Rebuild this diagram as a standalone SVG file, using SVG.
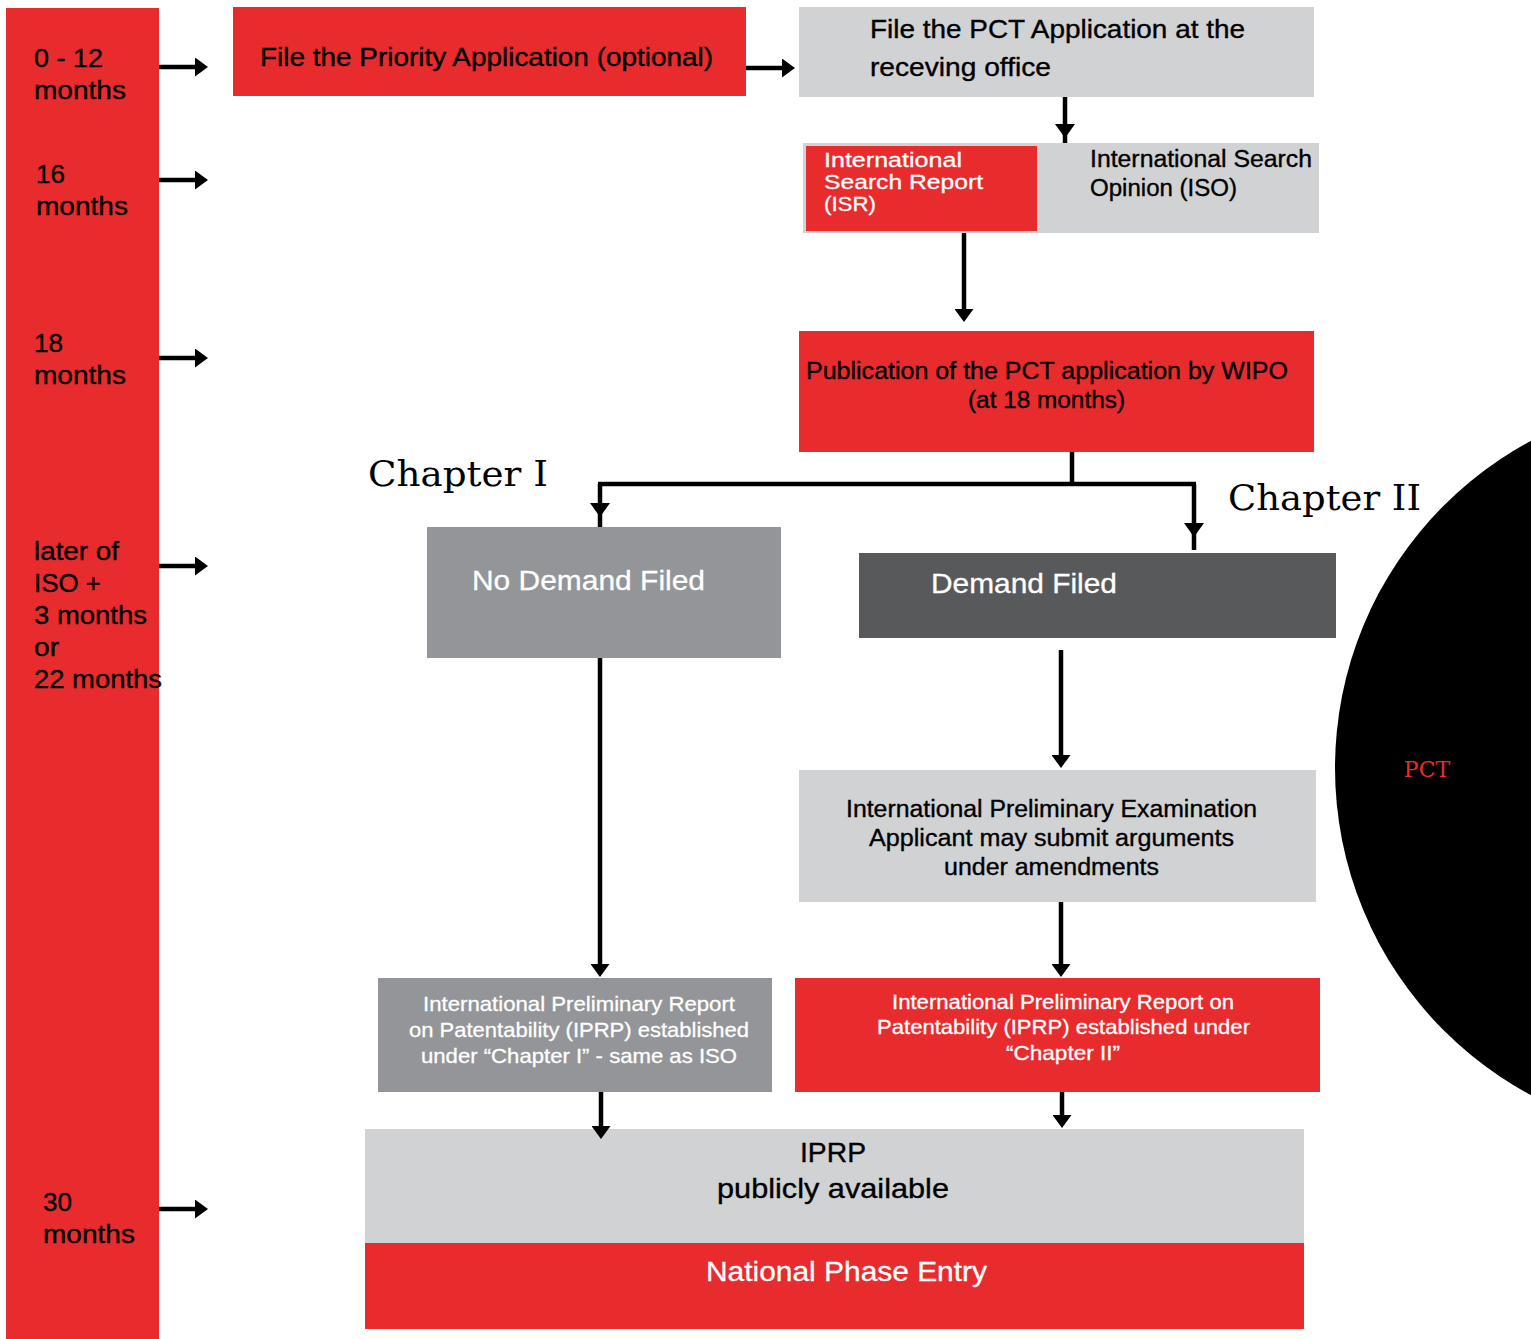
<svg xmlns="http://www.w3.org/2000/svg" width="1531" height="1339" viewBox="0 0 1531 1339">
<style>
.red{fill:#E82C2E}.lg{fill:#D1D2D4}.mg{fill:#939598}.dg{fill:#58595B}
.t{font-family:"Liberation Sans",Arial,sans-serif;fill:#000;stroke:#000;stroke-width:0.35}
.w{font-family:"Liberation Sans",Arial,sans-serif;fill:#fff;stroke:#fff;stroke-width:0.3}
.ser{font-family:"DejaVu Serif","Liberation Serif",serif;fill:#000}
.ln{stroke:#000;stroke-width:4.5;fill:none}
</style>
<defs>
<marker id="ah" markerUnits="userSpaceOnUse" markerWidth="13" markerHeight="19" refX="1" refY="9.5" orient="auto">
<path d="M0,0 L13,9.5 L0,19 z" fill="#000"/>
</marker>
</defs>
<rect width="1531" height="1339" fill="#fff"/>
<g id="timeline">
<rect class="red" x="6" y="8" width="153" height="1331"/>
<text class="t" font-size="26"><tspan x="34" y="67" textLength="69" lengthAdjust="spacingAndGlyphs">0 - 12</tspan><tspan x="34" y="99" textLength="92" lengthAdjust="spacingAndGlyphs">months</tspan></text>
<text class="t" font-size="26"><tspan x="36" y="183" textLength="29" lengthAdjust="spacingAndGlyphs">16</tspan><tspan x="36" y="215" textLength="92" lengthAdjust="spacingAndGlyphs">months</tspan></text>
<text class="t" font-size="26"><tspan x="34" y="352" textLength="29" lengthAdjust="spacingAndGlyphs">18</tspan><tspan x="34" y="384" textLength="92" lengthAdjust="spacingAndGlyphs">months</tspan></text>
<text class="t" font-size="26"><tspan x="34" y="560" textLength="85" lengthAdjust="spacingAndGlyphs">later of</tspan><tspan x="34" y="592" textLength="67" lengthAdjust="spacingAndGlyphs">ISO +</tspan><tspan x="34" y="624" textLength="113" lengthAdjust="spacingAndGlyphs">3 months</tspan><tspan x="34" y="656" textLength="25" lengthAdjust="spacingAndGlyphs">or</tspan><tspan x="34" y="688" textLength="128" lengthAdjust="spacingAndGlyphs">22 months</tspan></text>
<text class="t" font-size="26"><tspan x="43" y="1211" textLength="29" lengthAdjust="spacingAndGlyphs">30</tspan><tspan x="43" y="1243" textLength="92" lengthAdjust="spacingAndGlyphs">months</tspan></text>
</g>
<g id="priority">
<rect class="red" x="233" y="7" width="513" height="89"/>
<text class="t" font-size="25" x="260" y="66" textLength="453" lengthAdjust="spacingAndGlyphs">File the Priority Application (optional)</text>
</g>
<g id="pct-filing">
<rect class="lg" x="799" y="7" width="515" height="90"/>
<text class="t" font-size="25"><tspan x="870" y="38" textLength="375" lengthAdjust="spacingAndGlyphs">File the PCT Application at the</tspan><tspan x="870" y="76" textLength="181" lengthAdjust="spacingAndGlyphs">receving office</tspan></text>
</g>
<g id="search">
<rect class="lg" x="803" y="143" width="516" height="90"/>
<rect class="red" x="806" y="146" width="231" height="85"/>
<text class="w" font-size="21"><tspan x="824" y="167" textLength="138" lengthAdjust="spacingAndGlyphs">International</tspan><tspan x="824" y="189" textLength="159" lengthAdjust="spacingAndGlyphs">Search Report</tspan><tspan x="824" y="211" textLength="52" lengthAdjust="spacingAndGlyphs">(ISR)</tspan></text>
<text class="t" font-size="23"><tspan x="1090" y="167" textLength="222" lengthAdjust="spacingAndGlyphs">International Search</tspan><tspan x="1090" y="196" textLength="147" lengthAdjust="spacingAndGlyphs">Opinion (ISO)</tspan></text>
</g>
<g id="publication">
<rect class="red" x="799" y="331" width="515" height="121"/>
<text class="t" font-size="23"><tspan x="806" y="379" textLength="482" lengthAdjust="spacingAndGlyphs">Publication of the PCT application by WIPO</tspan><tspan x="968" y="408" textLength="157" lengthAdjust="spacingAndGlyphs">(at 18 months)</tspan></text>
</g>
<g id="chapter-labels">
<text class="ser" font-size="36" x="368" y="486" textLength="180" lengthAdjust="spacingAndGlyphs">Chapter I</text>
<text class="ser" font-size="36" x="1228" y="510" textLength="193" lengthAdjust="spacingAndGlyphs">Chapter II</text>
</g>
<g id="no-demand">
<rect class="mg" x="427" y="527" width="354" height="131"/>
<text class="w" font-size="28" x="472" y="590" textLength="233" lengthAdjust="spacingAndGlyphs">No Demand Filed</text>
</g>
<g id="demand">
<rect class="dg" x="859" y="553" width="477" height="85"/>
<text class="w" font-size="28" x="931" y="593" textLength="186" lengthAdjust="spacingAndGlyphs">Demand Filed</text>
</g>
<g id="ipe">
<rect class="lg" x="799" y="770" width="517" height="132"/>
<text class="t" font-size="23"><tspan x="846" y="817" textLength="411" lengthAdjust="spacingAndGlyphs">International Preliminary Examination</tspan><tspan x="869" y="846" textLength="365" lengthAdjust="spacingAndGlyphs">Applicant may submit arguments</tspan><tspan x="944" y="875" textLength="215" lengthAdjust="spacingAndGlyphs">under amendments</tspan></text>
</g>
<g id="iprp-ch1">
<rect class="mg" x="378" y="978" width="394" height="114"/>
<text class="w" font-size="21"><tspan x="423" y="1011" textLength="312" lengthAdjust="spacingAndGlyphs">International Preliminary Report</tspan><tspan x="409" y="1037" textLength="340" lengthAdjust="spacingAndGlyphs">on Patentability (IPRP) established</tspan><tspan x="421" y="1063" textLength="316" lengthAdjust="spacingAndGlyphs">under “Chapter I” - same as ISO</tspan></text>
</g>
<g id="iprp-ch2">
<rect class="red" x="795" y="978" width="525" height="114"/>
<text class="w" font-size="21"><tspan x="892" y="1009" textLength="342" lengthAdjust="spacingAndGlyphs">International Preliminary Report on</tspan><tspan x="877" y="1034" textLength="373" lengthAdjust="spacingAndGlyphs">Patentability (IPRP) established under</tspan><tspan x="1006" y="1060" textLength="114" lengthAdjust="spacingAndGlyphs">“Chapter II”</tspan></text>
</g>
<g id="iprp-public">
<rect class="lg" x="365" y="1129" width="939" height="114"/>
<text class="t" font-size="28"><tspan x="800" y="1162" textLength="66" lengthAdjust="spacingAndGlyphs">IPRP</tspan><tspan x="717" y="1198" textLength="232" lengthAdjust="spacingAndGlyphs">publicly available</tspan></text>
</g>
<g id="national-phase">
<rect class="red" x="365" y="1243" width="939" height="86"/>
<text class="w" font-size="28" x="706" y="1281" textLength="281" lengthAdjust="spacingAndGlyphs">National Phase Entry</text>
</g>
<g id="pct-circle">
<circle cx="1706" cy="768" r="371" fill="#000"/>
<text class="ser" font-size="22" x="1427" y="777" text-anchor="middle" style="fill:#E82C2E">PCT</text>
</g>
<g id="connectors">
<line class="ln" x1="159" y1="67" x2="196" y2="67" marker-end="url(#ah)"/>
<line class="ln" x1="159" y1="180" x2="196" y2="180" marker-end="url(#ah)"/>
<line class="ln" x1="159" y1="358" x2="196" y2="358" marker-end="url(#ah)"/>
<line class="ln" x1="159" y1="566" x2="196" y2="566" marker-end="url(#ah)"/>
<line class="ln" x1="159" y1="1209" x2="196" y2="1209" marker-end="url(#ah)"/>
<line class="ln" x1="746" y1="68" x2="783" y2="68" marker-end="url(#ah)"/>
<line class="ln" x1="1065" y1="97" x2="1065" y2="143"/>
<polygon points="1055,124 1075,124 1065,138"/>
<line class="ln" x1="964" y1="233" x2="964" y2="310" marker-end="url(#ah)"/>
<line class="ln" x1="1072" y1="452" x2="1072" y2="484"/>
<line class="ln" x1="598" y1="484" x2="1196" y2="484"/>
<line class="ln" x1="600" y1="484" x2="600" y2="527"/>
<polygon points="590,503 610,503 600,517"/>
<line class="ln" x1="1194" y1="484" x2="1194" y2="550"/>
<polygon points="1184,523 1204,523 1194,537"/>
<line class="ln" x1="600" y1="658" x2="600" y2="965" marker-end="url(#ah)"/>
<line class="ln" x1="1061" y1="650" x2="1061" y2="756" marker-end="url(#ah)"/>
<line class="ln" x1="1061" y1="902" x2="1061" y2="965" marker-end="url(#ah)"/>
<line class="ln" x1="601" y1="1092" x2="601" y2="1127" marker-end="url(#ah)"/>
<line class="ln" x1="1062" y1="1092" x2="1062" y2="1116" marker-end="url(#ah)"/>
</g>
</svg>
